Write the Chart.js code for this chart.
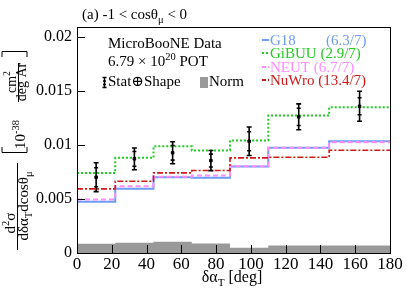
<!DOCTYPE html>
<html>
<head>
<meta charset="utf-8">
<script src="https://cdn.jsdelivr.net/npm/chart.js@4"></script>
<style>
  body { margin: 0; background: #fff; }
  canvas { display: block; }
</style>
</head>
<body>
<canvas id="c" width="407" height="295"></canvas>
<script>
// bin edges and data
const edges = [0, 22, 44, 66, 88, 110, 145, 180];
const binCenters = [11, 33, 55, 77, 99, 127.5, 162.5];
const dataVals = [0.00702, 0.00872, 0.00928, 0.00856, 0.01035, 0.01261, 0.01359];
const totErr = [0.00134, 0.00101, 0.00102, 0.00093, 0.00132, 0.0012, 0.00139];
const statErr = [0.00088, 0.00068, 0.00068, 0.0006, 0.00088, 0.0008, 0.00079];
const g18 = [0.00474, 0.00594, 0.00702, 0.00696, 0.00801, 0.00974, 0.01035];
const neut = [0.00495, 0.00619, 0.00705, 0.00718, 0.00804, 0.00974, 0.01026];
const nuwro = [0.00594, 0.00665, 0.00742, 0.00764, 0.00881, 0.00887, 0.00952];
const gibuu = [0.00742, 0.00881, 0.00989, 0.00949, 0.01042, 0.01273, 0.0135];
const normBand = [0.00085, 0.00094, 0.00104, 0.00088, 0.00048, 0.00069, 0.00069];
const xTicks = [0, 20, 40, 60, 80, 100, 120, 140, 160, 180];
const yTicks = [0, 0.005, 0.01, 0.015, 0.02];

const SERIF = '"Liberation Serif", "DejaVu Serif", serif';
const colG18 = '#6f9cf5';
const colGiBUU = '#22cc22';
const colNEUT = '#ff8cff';
const colNuWro = '#d01818';

// histogram as stepped line: one point per low edge + the last edge
function steps(vals) {
    return edges.map((x, i) => ({ x: x, y: vals[Math.min(i, vals.length - 1)] }));
}

// draw text with sub/superscripts, parts = [[text, kind]] kind: 0 normal, 1 sup, 2 sub
function rich(ctx, parts, x, y, size, align) {
    let w = 0;
    parts.forEach(p => {
        ctx.font = (p[1] ? size * 0.7 : size) + 'px ' + SERIF;
        w += ctx.measureText(p[0]).width;
    });
    let cx = align === 'center' ? x - w / 2 : x;
    ctx.textAlign = 'left';
    ctx.textBaseline = 'alphabetic';
    parts.forEach(p => {
        ctx.font = (p[1] ? size * 0.7 : size) + 'px ' + SERIF;
        const dy = p[1] === 1 ? -size * 0.42 : (p[1] === 2 ? size * 0.28 : 0);
        ctx.fillText(p[0], cx, y + dy);
        cx += ctx.measureText(p[0]).width;
    });
}

// rotated text: ys = screen y (center or start), xs = screen x of baseline
function richRot(ctx, parts, ys, xs, size, align) {
    ctx.save();
    ctx.translate(xs, ys);
    ctx.rotate(-Math.PI / 2);
    rich(ctx, parts, 0, 0, size, align);
    ctx.restore();
}

const decorations = {
    id: 'decorations',
    afterDatasetsDraw(chart) {
        const ctx = chart.ctx;
        const a = chart.chartArea;
        const xs = chart.scales.x, ys = chart.scales.y;
        ctx.save();

        // frame and inward ticks
        ctx.strokeStyle = '#000';
        ctx.lineWidth = 1;
        ctx.strokeRect(a.left + 0.5, a.top + 0.5, a.right - a.left, a.bottom - a.top);
        ctx.beginPath();
        xTicks.forEach(v => {
            const px = Math.round(xs.getPixelForValue(v)) + 0.5;
            ctx.moveTo(px, a.bottom);
            ctx.lineTo(px, a.bottom - 8);
        });
        yTicks.forEach(v => {
            const py = Math.round(ys.getPixelForValue(v)) + 0.5;
            ctx.moveTo(a.left, py);
            ctx.lineTo(a.left + 8, py);
        });
        ctx.stroke();

        // error bars: total (outer caps) and stat (inner caps)
        ctx.strokeStyle = '#000';
        ctx.lineWidth = 1.6;
        binCenters.forEach((c, i) => {
            const px = xs.getPixelForValue(c);
            const hi = ys.getPixelForValue(dataVals[i] + totErr[i]);
            const lo = ys.getPixelForValue(dataVals[i] - totErr[i]);
            const shi = ys.getPixelForValue(dataVals[i] + statErr[i]);
            const slo = ys.getPixelForValue(dataVals[i] - statErr[i]);
            ctx.beginPath();
            ctx.moveTo(px, hi); ctx.lineTo(px, lo);
            ctx.moveTo(px - 2.5, hi); ctx.lineTo(px + 2.5, hi);
            ctx.moveTo(px - 2.5, lo); ctx.lineTo(px + 2.5, lo);
            ctx.moveTo(px - 2, shi); ctx.lineTo(px + 2, shi);
            ctx.moveTo(px - 2, slo); ctx.lineTo(px + 2, slo);
            ctx.stroke();
        });

        ctx.fillStyle = '#000';
        // title
        rich(ctx, [['(a) -1 < cos\u03b8', 0], ['\u03bc', 2], [' < 0', 0]], 82, 19, 15, 'left');

        // data description
        rich(ctx, [['MicroBooNE Data', 0]], 108, 48, 15, 'left');
        rich(ctx, [['6.79 \u00d7 10', 0], ['20', 1], [' POT', 0]], 108, 66, 15, 'left');
        ctx.lineWidth = 1.4;
        ctx.beginPath();
        ctx.moveTo(104.5, 77); ctx.lineTo(104.5, 88);
        ctx.moveTo(102.5, 77.5); ctx.lineTo(106.5, 77.5);
        ctx.moveTo(102.5, 87.5); ctx.lineTo(106.5, 87.5);
        ctx.moveTo(103, 81); ctx.lineTo(106, 81);
        ctx.moveTo(103, 84.5); ctx.lineTo(106, 84.5);
        ctx.stroke();
        rich(ctx, [['Stat\u2295Shape', 0]], 108, 86, 15, 'left');
        ctx.fillStyle = '#999';
        ctx.fillRect(200, 77, 8, 11);
        ctx.fillStyle = '#000';
        rich(ctx, [['Norm', 0]], 209, 86, 15, 'left');

        // model legend
        const leg = [
            [colG18, [], 'G18', 45],
            [colGiBUU, [2, 2], 'GiBUU (2.9/7)', 58],
            [colNEUT, [4, 2], 'NEUT (6.7/7)', 72],
            [colNuWro, [4, 2, 1, 2], 'NuWro (13.4/7)', 85]
        ];
        leg.forEach(l => {
            ctx.strokeStyle = l[0];
            ctx.lineWidth = 2;
            ctx.setLineDash(l[1]);
            ctx.beginPath();
            ctx.moveTo(262, l[3] - 5);
            ctx.lineTo(269, l[3] - 5);
            ctx.stroke();
            ctx.setLineDash([]);
            ctx.fillStyle = l[0];
            rich(ctx, [[l[2], 0]], 270, l[3], 15, 'left');
        });
        ctx.fillStyle = colG18;
        rich(ctx, [['(6.3/7)', 0]], 326, 45, 15, 'left');

        // x axis title
        ctx.fillStyle = '#000';
        rich(ctx, [['\u03b4\u03b1', 0], ['T', 2], [' [deg]', 0]], 232, 282, 16, 'center');

        // y axis title (rotated)
        richRot(ctx, [['d', 0], ['2', 1], ['\u03c3', 0]], 223, 15, 15, 'center');
        richRot(ctx, [['d\u03b4\u03b1', 0], ['T', 2], ['dcos\u03b8', 0], ['\u03bc', 2]], 206, 28, 15, 'center');
        richRot(ctx, [['10', 0], ['-38', 1]], 149, 25, 15, 'left');
        richRot(ctx, [['cm', 0], ['2', 1]], 82, 16, 14, 'center');
        richRot(ctx, [['deg Ar', 0]], 82, 26, 14, 'center');
        ctx.strokeStyle = '#000';
        ctx.lineWidth = 1;
        ctx.beginPath();
        ctx.moveTo(17.5, 163); ctx.lineTo(17.5, 250);
        ctx.moveTo(18.5, 63); ctx.lineTo(18.5, 102);
        // brackets
        ctx.moveTo(2, 147); ctx.lineTo(2, 152.5); ctx.lineTo(27, 152.5); ctx.lineTo(27, 147);
        ctx.moveTo(2, 57); ctx.lineTo(2, 51.5); ctx.lineTo(27, 51.5); ctx.lineTo(27, 57);
        ctx.stroke();

        ctx.restore();
    }
};

const lineDs = (label, vals, color, dash, width, order) => ({
    label: label,
    data: steps(vals),
    stepped: 'before',
    borderColor: color,
    borderDash: dash,
    borderWidth: width,
    pointRadius: 0,
    fill: false,
    order: order
});

new Chart(document.getElementById('c'), {
    type: 'line',
    data: {
        datasets: [
            {
                label: 'Data',
                data: binCenters.map((x, i) => ({ x: x, y: dataVals[i] })),
                showLine: false,
                pointStyle: 'rect',
                pointRadius: 1.8,
                backgroundColor: '#000',
                borderColor: '#000',
                order: 0
            },
            lineDs('NuWro', nuwro, colNuWro, [6, 2, 2, 2], 1.6, 1),
            lineDs('NEUT', neut, colNEUT, [5, 3], 2, 2),
            lineDs('G18', g18, colG18, [], 2, 3),
            lineDs('GiBUU', gibuu, colGiBUU, [2, 2], 2, 4),
            {
                label: 'Norm',
                data: steps(normBand),
                stepped: 'before',
                borderWidth: 0,
                pointRadius: 0,
                backgroundColor: '#999',
                fill: 'origin',
                order: 5
            }
        ]
    },
    options: {
        responsive: false,
        animation: false,
        layout: { padding: { top: 27, right: 17, left: 0, bottom: 0 } },
        plugins: { legend: { display: false }, tooltip: { enabled: false } },
        scales: {
            x: {
                type: 'linear',
                min: 0,
                max: 180,
                grid: { display: false, drawTicks: false },
                border: { display: true, color: '#000' },
                afterFit: s => { s.height = 42; },
                afterBuildTicks: s => { s.ticks = xTicks.map(v => ({ value: v })); },
                ticks: {
                    color: '#000',
                    padding: 1,
                    maxRotation: 0,
                    autoSkip: false,
                    font: { family: SERIF, size: 17 }
                }
            },
            y: {
                type: 'linear',
                min: 0,
                max: 0.02093,
                grid: { display: false, drawTicks: false },
                border: { display: true, color: '#000' },
                afterFit: s => { s.width = 77; },
                afterBuildTicks: s => { s.ticks = yTicks.map(v => ({ value: v })); },
                ticks: {
                    color: '#000',
                    padding: 5,
                    autoSkip: false,
                    font: { family: SERIF, size: 16 },
                    callback: v => String(+v.toFixed(3))
                }
            }
        }
    },
    plugins: [decorations]
});
</script>
</body>
</html>
